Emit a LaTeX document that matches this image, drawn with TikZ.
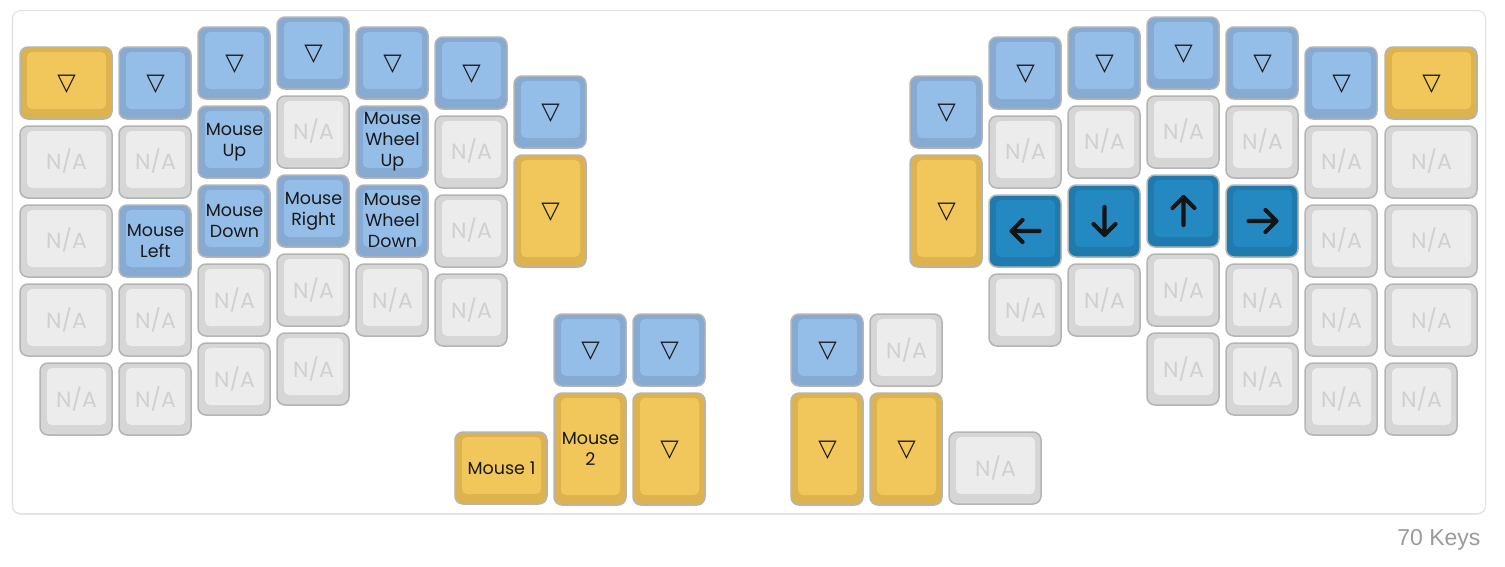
\documentclass[tikz,border=0pt]{standalone}
\usepackage{fontspec}
\setmainfont{Liberation Sans}
\newfontfamily\keyfont{Poppins}
\newfontfamily\glyphfont{DejaVu Sans}
\usetikzlibrary{calc}

\definecolor{yelOut}{HTML}{DCB34F}
\definecolor{yelIn}{HTML}{F1C75C}
\definecolor{bluOut}{HTML}{86AAD2}
\definecolor{bluIn}{HTML}{94BDE8}
\definecolor{dkOut}{HTML}{1F7BAD}
\definecolor{dkIn}{HTML}{2389C0}
\definecolor{gryOut}{HTML}{D6D6D6}
\definecolor{gryIn}{HTML}{ECECEC}
\definecolor{keyEdge}{HTML}{B4B4B4}
\definecolor{naText}{HTML}{D0D0D0}
\definecolor{frameEdge}{HTML}{E2E2E2}
\definecolor{countText}{HTML}{9A9A9A}

\tikzset{
  keybase/.style={rectangle, rounded corners=8pt, draw=keyEdge, line width=1.5pt, inner sep=0pt, outer sep=0pt},
  yelouter/.style={fill=yelOut}, yelinner/.style={fill=yelIn},
  bluouter/.style={fill=bluOut}, bluinner/.style={fill=bluIn},
  dkouter/.style={fill=dkOut},   dkinner/.style={fill=dkIn},
  gryouter/.style={fill=gryOut}, gryinner/.style={fill=gryIn},
  keylabel/.style={align=center, font=\keyfont\fontsize{17.5}{21}\selectfont, text=black!90},
  nalabel/.style={font=\keyfont\fontsize{22}{24}\selectfont, text=naText},
  trilabel/.style={font=\glyphfont\fontsize{24}{25}\selectfont, text=black!90},
  arrowicon/.style={line width=4.2pt, line cap=round, line join=round, draw=black!92}
}

% #1 name, #2 left, #3 top, #4 width, #5 height, #6 colour set
\newcommand\keycap[6]{%
  \node[keybase, #6outer, minimum width=#4pt, minimum height=#5pt, anchor=north west] (#1) at (#2,#3) {};
  \fill[#6inner, rounded corners=5pt] ([xshift=7pt,yshift=-5pt]#1.north west) rectangle ([xshift=-6pt,yshift=10pt]#1.south east);
  \coordinate (#1-c) at ([xshift=0.5pt]#1.center);
}
\newcommand\tri[1]{\node[trilabel] at ([yshift=-1.5pt]#1-c) {▽};}
\newcommand\na[1]{\node[nalabel] at ([yshift=0.5pt]#1-c) {N/A};}
\newcommand\lab[2]{\node[keylabel] at (#1-c) {#2};}
% arrow pointing left, rotated about the key centre
\newcommand\arr[2]{\draw[arrowicon, shift={(#1-c)}, rotate=#2] (-14,0) -- (14,0) (-3,-11) -- (-14,0) -- (-3,11);}

\begin{document}
\begin{tikzpicture}[x=1pt,y=-1pt]
\useasboundingbox (0,0) rectangle (1505,566);
% frame
\fill[black!8, rounded corners=9pt] (11.5,10.5) rectangle (1486,515);
\node[draw=frameEdge, fill=white, rounded corners=8pt, line width=1pt, minimum width=1473pt, minimum height=503pt, anchor=north west, inner sep=0pt] (frame) at (12,10) {};
\node[anchor=base east, text=countText, font=\fontsize{23}{26}\selectfont] (count) at (1484,545) {70 Keys};

% ---------- left half ----------
\keycap{La1}{20}{47}{92}{72}{yel}\tri{La1}
\keycap{La2}{20}{126}{92}{72}{gry}\na{La2}
\keycap{La3}{20}{205}{92}{72}{gry}\na{La3}
\keycap{La4}{20}{284}{92}{72}{gry}\na{La4}
\keycap{La5}{40}{363}{72}{72}{gry}\na{La5}

\keycap{Lb1}{119}{47}{72}{72}{blu}\tri{Lb1}
\keycap{Lb2}{119}{126}{72}{72}{gry}\na{Lb2}
\keycap{Lb3}{119}{205}{72}{72}{blu}\lab{Lb3}{Mouse\\Left}
\keycap{Lb4}{119}{284}{72}{72}{gry}\na{Lb4}
\keycap{Lb5}{119}{363}{72}{72}{gry}\na{Lb5}

\keycap{Lc1}{198}{27}{72}{72}{blu}\tri{Lc1}
\keycap{Lc2}{198}{106}{72}{72}{blu}\lab{Lc2}{Mouse\\Up}
\keycap{Lc3}{198}{185}{72}{72}{blu}\lab{Lc3}{Mouse\\Down}
\keycap{Lc4}{198}{264}{72}{72}{gry}\na{Lc4}
\keycap{Lc5}{198}{343}{72}{72}{gry}\na{Lc5}

\keycap{Ld1}{277}{17}{72}{72}{blu}\tri{Ld1}
\keycap{Ld2}{277}{96}{72}{72}{gry}\na{Ld2}
\keycap{Ld3}{277}{175}{72}{72}{blu}\lab{Ld3}{Mouse\\Right}
\keycap{Ld4}{277}{254}{72}{72}{gry}\na{Ld4}
\keycap{Ld5}{277}{333}{72}{72}{gry}\na{Ld5}

\keycap{Le1}{356}{27}{72}{72}{blu}\tri{Le1}
\keycap{Le2}{356}{106}{72}{72}{blu}\lab{Le2}{Mouse\\Wheel\\Up}
\keycap{Le3}{356}{185}{72}{72}{blu}\lab{Le3}{Mouse\\Wheel\\Down}
\keycap{Le4}{356}{264}{72}{72}{gry}\na{Le4}

\keycap{Lf1}{435}{37}{72}{72}{blu}\tri{Lf1}
\keycap{Lf2}{435}{116}{72}{72}{gry}\na{Lf2}
\keycap{Lf3}{435}{195}{72}{72}{gry}\na{Lf3}
\keycap{Lf4}{435}{274}{72}{72}{gry}\na{Lf4}

\keycap{Lg1}{514}{76}{72}{72}{blu}\tri{Lg1}
\keycap{Lg2}{514}{155}{72}{112}{yel}\tri{Lg2}

% left thumb cluster
\keycap{Lt1}{554}{314}{72}{72}{blu}\tri{Lt1}
\keycap{Lt2}{633}{314}{72}{72}{blu}\tri{Lt2}
\keycap{Lt3}{455}{432}{92}{72}{yel}\lab{Lt3}{Mouse 1}
\keycap{Lt4}{554}{393}{72}{112}{yel}\lab{Lt4}{Mouse\\2}
\keycap{Lt5}{633}{393}{72}{112}{yel}\tri{Lt5}

% ---------- right half ----------
\keycap{Rg1}{910}{76}{72}{72}{blu}\tri{Rg1}
\keycap{Rg2}{910}{155}{72}{112}{yel}\tri{Rg2}

\keycap{Rf1}{989}{37}{72}{72}{blu}\tri{Rf1}
\keycap{Rf2}{989}{116}{72}{72}{gry}\na{Rf2}
\keycap{Rf3}{989}{195}{72}{72}{dk}\arr{Rf3}{0}
\keycap{Rf4}{989}{274}{72}{72}{gry}\na{Rf4}

\keycap{Re1}{1068}{27}{72}{72}{blu}\tri{Re1}
\keycap{Re2}{1068}{106}{72}{72}{gry}\na{Re2}
\keycap{Re3}{1068}{185}{72}{72}{dk}\arr{Re3}{90}
\keycap{Re4}{1068}{264}{72}{72}{gry}\na{Re4}

\keycap{Rd1}{1147}{17}{72}{72}{blu}\tri{Rd1}
\keycap{Rd2}{1147}{96}{72}{72}{gry}\na{Rd2}
\keycap{Rd3}{1147}{175}{72}{72}{dk}\arr{Rd3}{-90}
\keycap{Rd4}{1147}{254}{72}{72}{gry}\na{Rd4}
\keycap{Rd5}{1147}{333}{72}{72}{gry}\na{Rd5}

\keycap{Rc1}{1226}{27}{72}{72}{blu}\tri{Rc1}
\keycap{Rc2}{1226}{106}{72}{72}{gry}\na{Rc2}
\keycap{Rc3}{1226}{185}{72}{72}{dk}\arr{Rc3}{180}
\keycap{Rc4}{1226}{264}{72}{72}{gry}\na{Rc4}
\keycap{Rc5}{1226}{343}{72}{72}{gry}\na{Rc5}

\keycap{Rb1}{1305}{47}{72}{72}{blu}\tri{Rb1}
\keycap{Rb2}{1305}{126}{72}{72}{gry}\na{Rb2}
\keycap{Rb3}{1305}{205}{72}{72}{gry}\na{Rb3}
\keycap{Rb4}{1305}{284}{72}{72}{gry}\na{Rb4}
\keycap{Rb5}{1305}{363}{72}{72}{gry}\na{Rb5}

\keycap{Ra1}{1385}{47}{92}{72}{yel}\tri{Ra1}
\keycap{Ra2}{1385}{126}{92}{72}{gry}\na{Ra2}
\keycap{Ra3}{1385}{205}{92}{72}{gry}\na{Ra3}
\keycap{Ra4}{1385}{284}{92}{72}{gry}\na{Ra4}
\keycap{Ra5}{1385}{363}{72}{72}{gry}\na{Ra5}

% right thumb cluster
\keycap{Rt1}{791}{314}{72}{72}{blu}\tri{Rt1}
\keycap{Rt2}{870}{314}{72}{72}{gry}\na{Rt2}
\keycap{Rt3}{791}{393}{72}{112}{yel}\tri{Rt3}
\keycap{Rt4}{870}{393}{72}{112}{yel}\tri{Rt4}
\keycap{Rt5}{949}{432}{92}{72}{gry}\na{Rt5}
\end{tikzpicture}
\end{document}
